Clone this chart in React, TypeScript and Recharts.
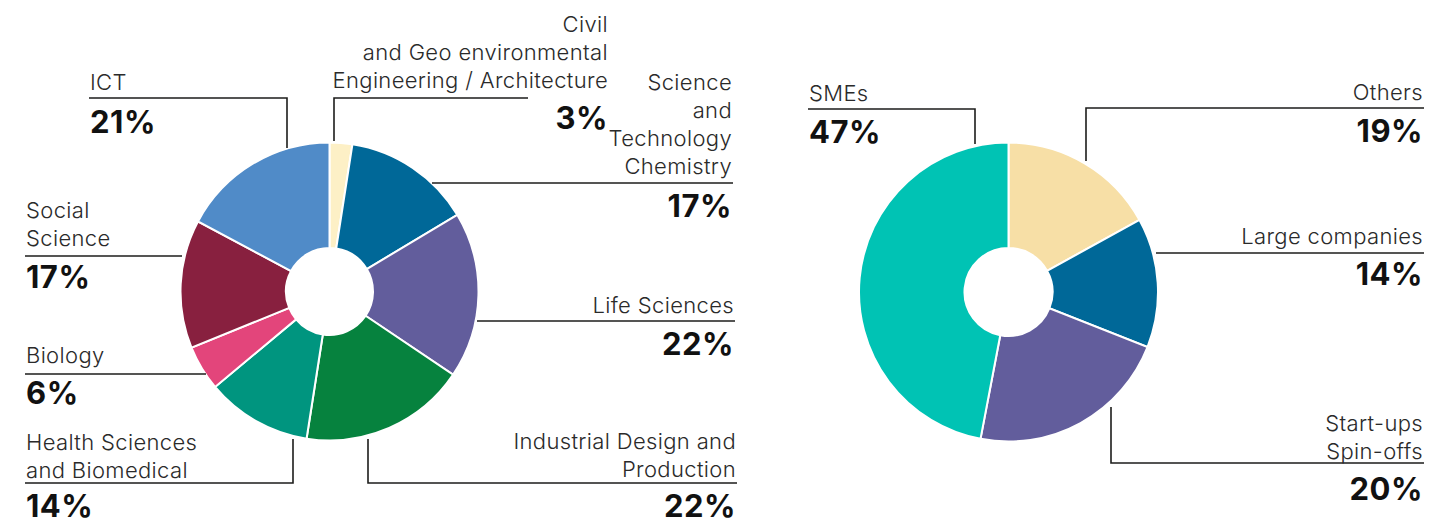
import React from "react";
import { PieChart, Pie, Cell } from "recharts";

// Left donut: research areas (clockwise from 12 o'clock)
const areaLabels = [
    ["Civil", "and Geo environmental", "Engineering / Architecture"],
    ["Science", "and", "Technology", "Chemistry"],
    ["Life Sciences"],
    ["Industrial Design and", "Production"],
    ["Health Sciences", "and Biomedical"],
    ["Biology"],
    ["Social", "Science"],
    ["ICT"],
];
const areaPercent = [3, 17, 22, 22, 14, 6, 17, 21];
const areaColors = ["#FDF0C6", "#006898", "#625D9C", "#06823E", "#00957F", "#E3457B", "#88203F", "#508BC8"];

// Right donut: partner types (clockwise from 12 o'clock)
const partnerLabels = [["Others"], ["Large companies"], ["Start-ups", "Spin-offs"], ["SMEs"]];
const partnerPercent = [19, 14, 20, 47];
// slice sizes as drawn in the original graphic
const partnerShare = [17, 14, 22, 47];
const partnerColors = ["#F7DFA6", "#006898", "#625D9C", "#00C3B4"];

type Layout = {
    anchor: "start" | "end";
    x: number;
    y: number; // baseline of first text line
    pctY: number;
    leader: number[][];
};

const LINE_H = 28;

// label placement + leader line paths
const AREA_LAYOUT: Layout[] = [
    { anchor: "end", x: 608, y: 32, pctY: 129, leader: [[528, 98], [334, 98], [334, 141]] },
    { anchor: "end", x: 732, y: 90, pctY: 217, leader: [[733, 183], [432, 183]] },
    { anchor: "end", x: 734, y: 313, pctY: 355, leader: [[735, 321], [477, 321]] },
    { anchor: "end", x: 736, y: 449, pctY: 517, leader: [[737, 483], [368, 483], [368, 439]] },
    { anchor: "start", x: 26, y: 450, pctY: 517, leader: [[25, 483], [293, 483], [293, 439]] },
    { anchor: "start", x: 26, y: 363, pctY: 404, leader: [[25, 374], [206, 374]] },
    { anchor: "start", x: 26, y: 218, pctY: 288, leader: [[25, 256], [182, 256]] },
    { anchor: "start", x: 90, y: 90, pctY: 133, leader: [[89, 98], [287, 98], [287, 148]] },
];

const PARTNER_LAYOUT: Layout[] = [
    { anchor: "end", x: 1423, y: 100, pctY: 142, leader: [[1424, 108], [1086, 108], [1086, 161]] },
    { anchor: "end", x: 1423, y: 244, pctY: 285, leader: [[1424, 253], [1156, 253]] },
    { anchor: "end", x: 1423, y: 431, pctY: 500, leader: [[1424, 463], [1111, 463], [1111, 407]] },
    { anchor: "start", x: 809, y: 101, pctY: 143, leader: [[808, 109], [975, 109], [975, 144]] },
];

const areaData = areaLabels.map((l, i) => ({ name: l.join(" "), value: areaPercent[i] }));
const partnerData = partnerLabels.map((l, i) => ({ name: l.join(" "), value: partnerShare[i] }));

const FONT = "Inter, Roboto, sans-serif";

function LeaderLabel({ lines, pct, layout }: { lines: string[]; pct: number; layout: Layout }) {
    return (
        <g>
            <polyline
                points={layout.leader.map((p) => p.join(",")).join(" ")}
                fill="none"
                stroke="#1d1d1b"
                strokeWidth={1.6}
            />
            <text
                x={layout.x}
                y={layout.y}
                textAnchor={layout.anchor}
                fontFamily={FONT}
                fontWeight={300}
                fontSize={22}
                letterSpacing={0.35}
                fill="#2a2a2a"
            >
                {lines.map((line, i) => (
                    <tspan key={i} x={layout.x} dy={i === 0 ? 0 : LINE_H}>
                        {line}
                    </tspan>
                ))}
            </text>
            <text
                x={layout.x}
                y={layout.pctY}
                textAnchor={layout.anchor}
                fontFamily={FONT}
                fontWeight={700}
                fontSize={31}
                letterSpacing={0.5}
                fill="#111"
            >
                {pct}%
            </text>
        </g>
    );
}

export default function App() {
    return (
        <div style={{ position: "fixed", left: 0, top: 0, width: 1455, height: 522, background: "#fff" }}>
            <PieChart width={1455} height={522} margin={{ top: 0, right: 0, bottom: 0, left: 0 }}>
                {/* Research areas */}
                <Pie
                    data={areaData}
                    dataKey="value"
                    cx={329.5}
                    cy={291.5}
                    innerRadius={43.5}
                    outerRadius={149}
                    startAngle={90}
                    endAngle={-270}
                    stroke="#fff"
                    strokeWidth={2}
                    isAnimationActive={false}
                    labelLine={false}
                    label={(props: any) => (
                        <LeaderLabel
                            lines={areaLabels[props.index]}
                            pct={areaPercent[props.index]}
                            layout={AREA_LAYOUT[props.index]}
                        />
                    )}
                >
                    {areaData.map((entry, index) => (
                        <Cell key={`area-${index}`} fill={areaColors[index]} />
                    ))}
                </Pie>

                {/* Partner types */}
                <Pie
                    data={partnerData}
                    dataKey="value"
                    cx={1008.5}
                    cy={292}
                    innerRadius={44}
                    outerRadius={149.5}
                    startAngle={90}
                    endAngle={-270}
                    stroke="#fff"
                    strokeWidth={2}
                    isAnimationActive={false}
                    labelLine={false}
                    label={(props: any) => (
                        <LeaderLabel
                            lines={partnerLabels[props.index]}
                            pct={partnerPercent[props.index]}
                            layout={PARTNER_LAYOUT[props.index]}
                        />
                    )}
                >
                    {partnerData.map((entry, index) => (
                        <Cell key={`partner-${index}`} fill={partnerColors[index]} />
                    ))}
                </Pie>
            </PieChart>
        </div>
    );
}
